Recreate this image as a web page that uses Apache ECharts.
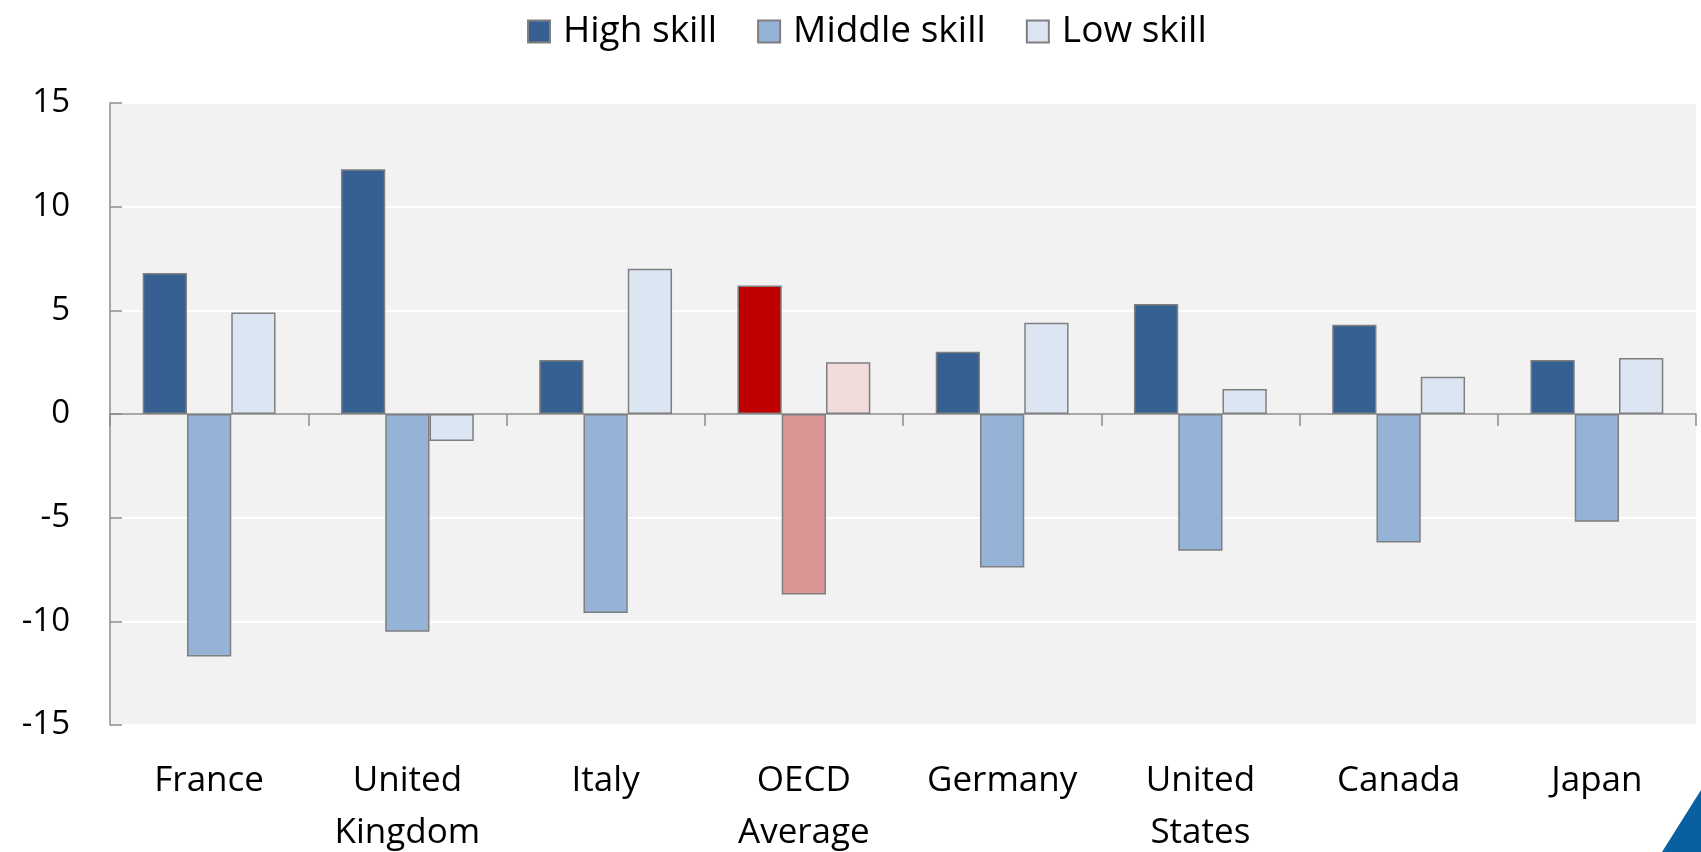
<!DOCTYPE html>
<html>
<head>
<meta charset="utf-8">
<script src="https://cdn.jsdelivr.net/npm/echarts@6/dist/echarts.min.js"></script>
<style>
  html, body { margin: 0; padding: 0; background: #fff; }
  #chart { width: 1701px; height: 852px; }
</style>
</head>
<body>
<div id="chart"></div>
<script>
var countries = ['France', 'United\nKingdom', 'Italy', 'OECD\nAverage', 'Germany', 'United\nStates', 'Canada', 'Japan'];
var highSkill = [6.8, 11.8, 2.6, 6.2, 3.0, 5.3, 4.3, 2.6];
var middleSkill = [-11.7, -10.5, -9.6, -8.7, -7.4, -6.6, -6.2, -5.2];
var lowSkill = [4.9, -1.3, 7.0, 2.5, 4.4, 1.2, 1.8, 2.7];

var oecdIndex = 3;
var oecdColors = { high: '#c00000', middle: '#d99594', low: '#f2dcdb' };

function withHighlight(values, color) {
    return values.map(function (v, i) {
        if (i === oecdIndex) {
            return { value: v, itemStyle: { color: color } };
        }
        return v;
    });
}

var chartDom = document.getElementById('chart');
var myChart = echarts.init(chartDom);
var font = 'Open Sans';

var barStyle = function (color) {
    return { color: color, borderColor: '#7f7f7f', borderWidth: 1.5 };
};

var option = {
    animation: false,
    textStyle: { fontFamily: font },
    legend: {
        top: 8,
        left: 522,
        itemWidth: 22,
        itemHeight: 22,
        itemGap: 40,
        icon: 'rect',
        textStyle: { fontSize: 37, color: '#000', fontFamily: font, padding: [0, 0, 0, 8] },
        data: ['High skill', 'Middle skill', 'Low skill']
    },
    grid: {
        left: 110,
        right: 5,
        top: 103,
        bottom: 127,
        outerBoundsMode: 'none',
        containLabel: false,
        show: true,
        backgroundColor: '#f2f2f2',
        borderWidth: 0
    },
    xAxis: [
        {
            type: 'category',
            data: countries,
            position: 'bottom',
            axisLine: { onZero: true, lineStyle: { color: '#8c8c8c', width: 1.5 } },
            axisTick: { show: true, length: 12, lineStyle: { color: '#8c8c8c', width: 1.5 } },
            axisLabel: { show: false }
        },
        {
            type: 'category',
            data: countries,
            position: 'bottom',
            axisLine: { show: false, onZero: false },
            axisTick: { show: false },
            axisLabel: {
                show: true,
                fontSize: 35,
                color: '#000',
                lineHeight: 52,
                margin: 30,
                fontFamily: font
            }
        }
    ],
    yAxis: {
        type: 'value',
        min: -15,
        max: 15,
        interval: 5,
        axisLine: { show: true, lineStyle: { color: '#8c8c8c', width: 1.5 } },
        axisTick: { show: true, inside: true, length: 12, lineStyle: { color: '#8c8c8c', width: 1.5 } },
        axisLabel: { fontSize: 33, color: '#000', margin: 40, fontFamily: font },
        splitLine: { show: true, lineStyle: { color: '#ffffff', width: 2 } }
    },
    series: [
        {
            name: 'High skill',
            type: 'bar',
            data: withHighlight(highSkill, oecdColors.high),
            itemStyle: barStyle('#376092'),
            barGap: '0%',
            barCategoryGap: '33%'
        },
        {
            name: 'Middle skill',
            type: 'bar',
            data: withHighlight(middleSkill, oecdColors.middle),
            itemStyle: barStyle('#95b3d7'),
            barGap: '0%',
            barCategoryGap: '33%'
        },
        {
            name: 'Low skill',
            type: 'bar',
            data: withHighlight(lowSkill, oecdColors.low),
            itemStyle: barStyle('#dce6f2'),
            barGap: '0%',
            barCategoryGap: '33%'
        }
    ],
    graphic: [
        {
            type: 'polygon',
            shape: { points: [[1662, 852], [1701, 790], [1701, 852]] },
            style: { fill: '#0a5fa0' },
            z: 100
        }
    ]
};

option && myChart.setOption(option);
</script>
</body>
</html>
